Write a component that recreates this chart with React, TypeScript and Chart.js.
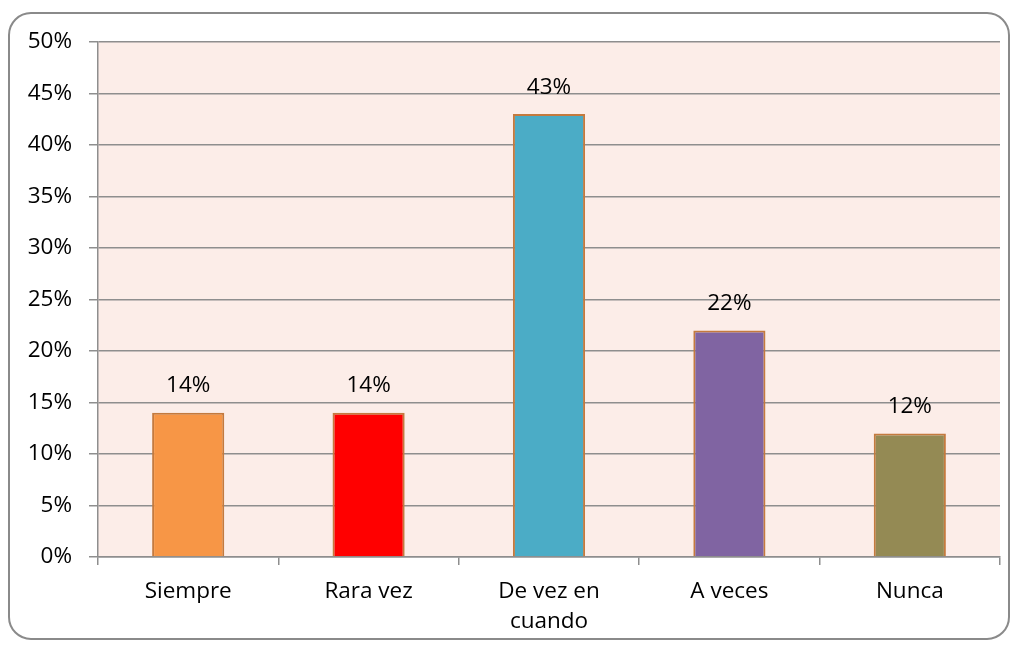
import React, { useEffect, useRef } from "react";
import { Chart, registerables } from "chart.js";

Chart.register(...registerables);

const categories: (string | string[])[] = ["Siempre", "Rara vez", ["De vez en", "cuando"], "A veces", "Nunca"];
const values: number[] = [14, 14, 43, 22, 12];
const barColors: string[] = ["#F79646", "#FF0000", "#4BACC6", "#8064A2", "#948A54"];
const yTicks: number[] = [0, 5, 10, 15, 20, 25, 30, 35, 40, 45, 50];

const FONT = "'Open Sans', 'Noto Sans', sans-serif";
const FSIZE = 22.5;
const GRID = "#8E8E8E";

const framePlugin = {
  id: "frame",
  beforeDraw(chart: any) {
    const ctx = chart.ctx;
    const a = chart.chartArea;
    ctx.save();
    ctx.fillStyle = "#ffffff";
    ctx.fillRect(0, 0, chart.width, chart.height);
    ctx.beginPath();
    ctx.strokeStyle = "#8A8A8A";
    ctx.lineWidth = 2;
    ctx.roundRect(9, 13, 1000, 626, 22);
    ctx.stroke();
    ctx.fillStyle = "#FCEDE8";
    ctx.fillRect(a.left, a.top, a.right - a.left, a.bottom - a.top);
    ctx.restore();
  },
};

const labelPlugin = {
  id: "barLabels",
  afterDatasetsDraw(chart: any) {
    const ctx = chart.ctx;
    const meta = chart.getDatasetMeta(0);
    ctx.save();
    ctx.fillStyle = "#000000";
    ctx.font = `${FSIZE}px ${FONT}`;
    ctx.textAlign = "center";
    ctx.textBaseline = "middle";
    meta.data.forEach((bar: any, i: number) => {
      ctx.fillText(values[i] + "%", bar.x, bar.y - 27);
    });
    ctx.restore();
  },
};

export default function App() {
  const ref = useRef<HTMLCanvasElement | null>(null);
  useEffect(() => {
    if (!ref.current) return;
    const chart = new Chart(ref.current, {
      type: "bar",
      data: {
        labels: categories,
        datasets: [
          {
            data: values,
            backgroundColor: barColors,
            borderColor: "#C47A3E",
            borderWidth: 2,
            barPercentage: 0.4,
            categoryPercentage: 1,
          },
        ],
      },
      options: {
        animation: false,
        responsive: false,
        maintainAspectRatio: false,
        layout: { padding: { left: 0, top: 42, right: 18, bottom: 0 } },
        plugins: { legend: { display: false }, tooltip: { enabled: false } },
        scales: {
          x: {
            afterFit: (s: any) => {
              s.height = 91;
            },
            grid: {
              offset: true,
              drawOnChartArea: false,
              drawTicks: true,
              tickLength: 8,
              color: GRID,
              lineWidth: 1.5,
            },
            border: { color: GRID, width: 1.5 },
            ticks: {
              color: "#000000",
              font: { family: FONT, size: FSIZE, lineHeight: 1.33 },
              padding: 12,
              maxRotation: 0,
              autoSkip: false,
            },
          },
          y: {
            min: 0,
            max: 50,
            afterFit: (s: any) => {
              s.width = 98;
            },
            afterBuildTicks: (s: any) => {
              s.ticks = yTicks.map((v) => ({ value: v }));
            },
            grid: {
              color: GRID,
              lineWidth: 1.5,
              tickLength: 9,
            },
            border: { color: GRID, width: 1.5 },
            ticks: {
              color: "#000000",
              font: { family: FONT, size: FSIZE },
              padding: 17,
              callback: (v: any) => v + "%",
            },
          },
        },
      },
      plugins: [framePlugin, labelPlugin],
    });
    return () => chart.destroy();
  }, []);
  return (
    <div style={{ position: "fixed", left: 0, top: 0, width: 1018, height: 648 }}>
      <canvas ref={ref} width={1018} height={648} style={{ width: 1018, height: 648, display: "block" }} />
    </div>
  );
}
